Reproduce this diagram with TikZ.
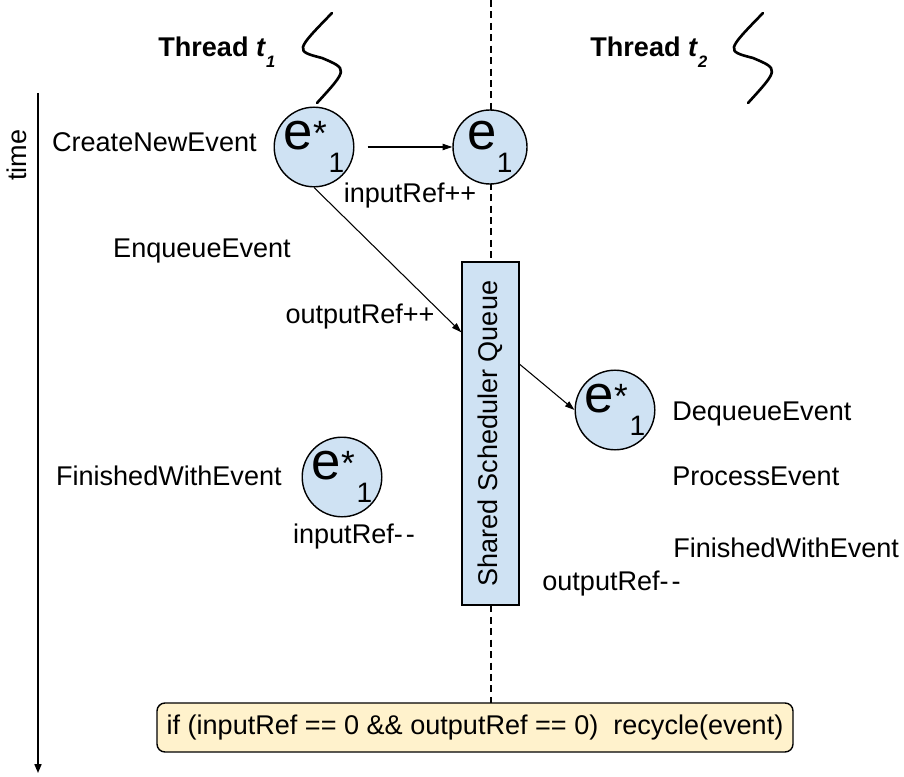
\documentclass[tikz,border=0pt]{standalone}
\usepackage{fontspec}
\setmainfont{Liberation Sans}
\usetikzlibrary{arrows.meta}

\definecolor{evblue}{HTML}{CFE2F3}
\definecolor{condyellow}{HTML}{FFF2CC}

% event names inside the circles
\newcommand{\evname}{{\fontsize{30}{30}\selectfont e}}
\newcommand{\evsub}{\raisebox{-0.46cm}{\fontsize{16}{16}\selectfont 1}}
\newcommand{\evstar}{\evname\raisebox{0.09cm}{\fontsize{20}{20}\selectfont *}\kern0.04cm\evsub}
\newcommand{\thr}[1]{\textbf{Thread \textit{t}}\raisebox{-0.22cm}{\fontsize{9.4}{9.4}\selectfont\bfseries\itshape #1}}
\newcommand{\dec}{-\kern0.06cm-}

\begin{document}
\begin{tikzpicture}[scale=1,
	font=\fontsize{15.4}{18}\selectfont,
	event/.style={circle, draw, fill=evblue, line width=0.8pt, minimum size=1.48cm, inner sep=0pt},
	queuebox/.style={draw, fill=evblue, line width=0.8pt, minimum width=1.14cm, minimum height=6.86cm, inner sep=0pt},
	condbox/.style={draw, fill=condyellow, line width=0.8pt, rounded corners=0.16cm, minimum width=12.72cm, minimum height=0.98cm, inner sep=0pt},
	flow/.style={line width=0.6pt, -{Triangle[length=5.5pt,width=3.6pt]}},
	lane/.style={line width=0.6pt, dash pattern=on 4pt off 2.5pt},
	thread/.style={line width=1.5pt, line cap=round},
	txt/.style={inner sep=0pt}]
	
	\useasboundingbox (0,0) rectangle (18.08,15.52);
	
	% time axis
	\coordinate (t0) at (0.76,13.66);
	\coordinate (t1) at (0.76,0.06);
	\draw[line width=0.8pt, -{Triangle[length=5pt,width=4pt]}] (t0) -- (t1);
	\node[txt, rotate=90] (timelbl) at (0.34,12.42) {time};
	
	% the two threads
	\node[txt, anchor=base west] (thrA) at (3.16,14.38) {\thr{1}};
	\node[txt, anchor=base west] (thrB) at (11.8,14.38) {\thr{2}};
	\foreach \dx in {0,8.62}
		\draw[thread, xshift=\dx cm] (6.64,15.26) .. controls (5.9,14.5) .. (6.44,14.36) .. controls (6.96,14.14) .. (6.34,13.46);
	
	% boundary between the threads (behind everything)
	\coordinate (lanetop) at (9.82,15.52);
	\coordinate (lanebot) at (9.82,1.46);
	\draw[lane] (lanetop) -- (lanebot);
	
	% events
	\node[event] (topstar) at (6.28,12.58) {\evstar};
	\node[event] (e1) at (9.8,12.58) {\evname\evsub};
	\node[event] (dqstar) at (12.3,7.32) {\evstar};
	\node[event] (donestar) at (6.84,5.98) {\evstar};
	
	% queue and recycle test
	\node[queuebox] (queue) at (9.81,6.85) {\rotatebox{90}{Shared Scheduler Queue}};
	\node[condbox] (recycle) at (9.5,0.97) {if (inputRef == 0 \&\& outputRef == 0)\ \ recycle(event)};
	
	% thread t1 steps
	\node[txt, anchor=base east] (create) at (5.14,12.48) {CreateNewEvent};
	\node[txt, anchor=base] (inplus) at (8.2,11.48) {inputRef++};
	\node[txt, anchor=base] (enq) at (4.04,10.38) {EnqueueEvent};
	\node[txt, anchor=base] (outplus) at (7.2,9.06) {outputRef++};
	\node[txt, anchor=base east] (finA) at (5.64,5.82) {FinishedWithEvent};
	\node[txt, anchor=base] (inminus) at (7.08,4.66) {inputRef\dec};
	
	% thread t2 steps
	\node[txt, anchor=base west] (deq) at (13.44,7.12) {DequeueEvent};
	\node[txt, anchor=base west] (proc) at (13.44,5.82) {ProcessEvent};
	\node[txt, anchor=base west] (finB) at (13.46,4.38) {FinishedWithEvent};
	\node[txt, anchor=base west] (outminus) at (10.84,3.72) {outputRef\dec};
	
	% arrows
	\draw[flow, shorten <=0.26cm] (topstar.east) -- (e1.west);
	\draw[flow] (topstar.south) -- ([yshift=-1.42cm]queue.north west);
	\draw[flow] ([yshift=-2.06cm]queue.north east) -- (dqstar.west);
	
\end{tikzpicture}
\end{document}
